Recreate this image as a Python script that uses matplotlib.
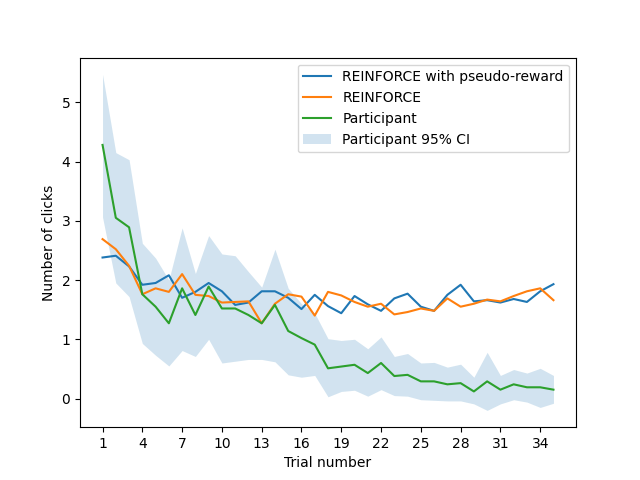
import numpy as np
import matplotlib
matplotlib.use("Agg")
from matplotlib import pyplot as plt

trials = np.arange(1, 36)

reinforce_pseudo = [2.38, 2.41, 2.23, 1.92, 1.95, 2.08, 1.70, 1.80, 1.95, 1.81,
                    1.58, 1.62, 1.81, 1.81, 1.70, 1.51, 1.75, 1.56, 1.44, 1.73,
                    1.59, 1.48, 1.69, 1.77, 1.55, 1.48, 1.75, 1.92, 1.64, 1.66,
                    1.62, 1.68, 1.63, 1.81, 1.93]
reinforce = [2.69, 2.52, 2.24, 1.76, 1.86, 1.80, 2.10, 1.75, 1.73, 1.62,
             1.63, 1.64, 1.27, 1.60, 1.76, 1.72, 1.40, 1.80, 1.74, 1.63,
             1.55, 1.60, 1.42, 1.46, 1.52, 1.48, 1.69, 1.55, 1.60, 1.67,
             1.64, 1.73, 1.81, 1.86, 1.66]
participant = [4.28, 3.05, 2.89, 1.76, 1.55, 1.27, 1.86, 1.41, 1.89, 1.52,
               1.52, 1.41, 1.27, 1.58, 1.14, 1.02, 0.91, 0.51, 0.54, 0.57,
               0.43, 0.60, 0.38, 0.40, 0.29, 0.29, 0.24, 0.26, 0.12, 0.29,
               0.15, 0.24, 0.19, 0.19, 0.15]
ci_upper = [5.47, 4.15, 4.03, 2.62, 2.37, 2.00, 2.88, 2.11, 2.75, 2.44,
            2.41, 2.14, 1.88, 2.52, 1.86, 1.60, 1.44, 1.01, 0.98, 1.00,
            0.84, 1.04, 0.71, 0.76, 0.60, 0.61, 0.53, 0.58, 0.36, 0.78,
            0.39, 0.49, 0.43, 0.51, 0.39]
ci_lower = [3.06, 1.95, 1.72, 0.93, 0.73, 0.55, 0.81, 0.71, 1.00, 0.60,
            0.63, 0.66, 0.66, 0.62, 0.40, 0.36, 0.39, 0.03, 0.12, 0.14,
            0.04, 0.15, 0.05, 0.04, -0.02, -0.03, -0.04, -0.04, -0.09, -0.20,
            -0.09, -0.02, -0.06, -0.15, -0.08]

fig, ax = plt.subplots(figsize=(6.4, 4.8), dpi=100)
ax.plot(trials, reinforce_pseudo, label="REINFORCE with pseudo-reward")
ax.plot(trials, reinforce, label="REINFORCE")
ax.plot(trials, participant, label="Participant")
ax.fill_between(trials, ci_lower, ci_upper, color="C0", alpha=0.2, linewidth=0,
                label="Participant 95% CI")
ax.set_xticks(np.arange(1, 36, 3))
ax.set_xlabel("Trial number")
ax.set_ylabel("Number of clicks")
ax.legend(loc="upper right")
fig.savefig("out.png")
